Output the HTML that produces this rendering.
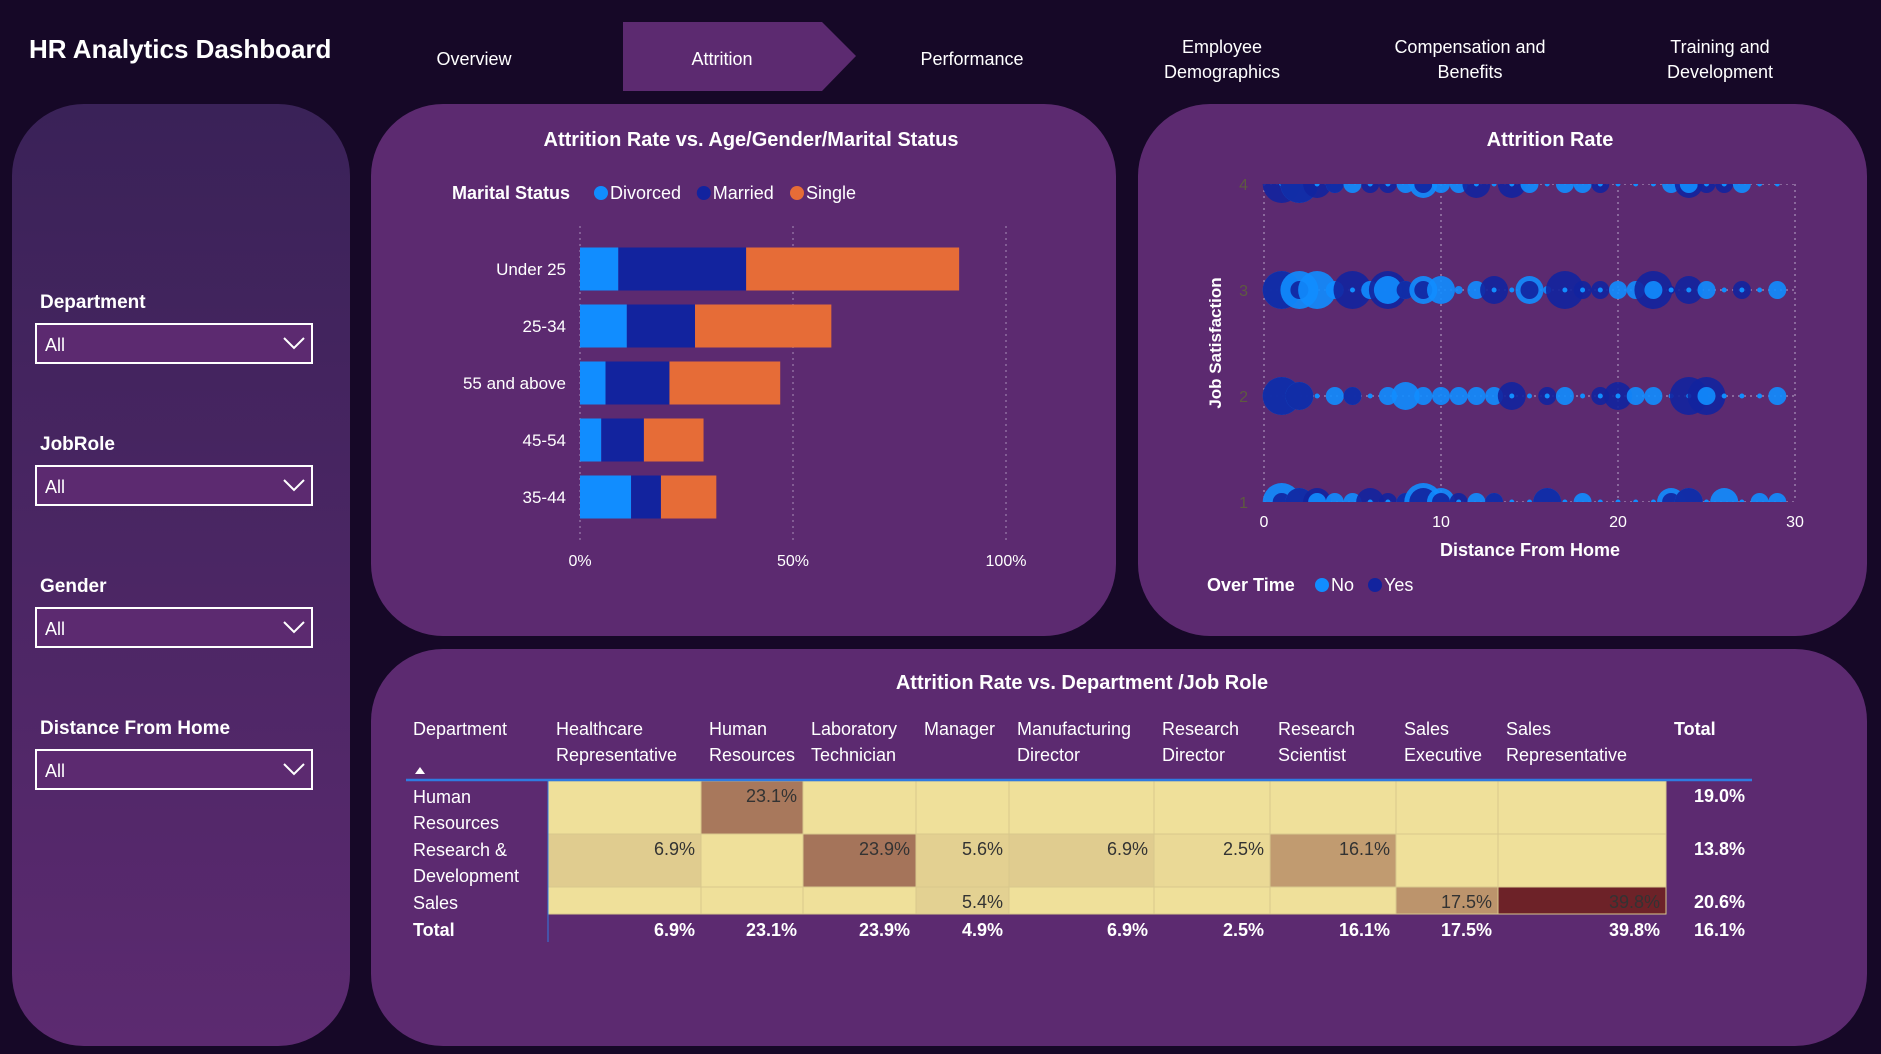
<!DOCTYPE html>
<html><head><meta charset="utf-8"><style>
html,body{margin:0;padding:0;background:#160827;width:1881px;height:1054px;overflow:hidden}
svg{display:block;font-family:"Liberation Sans",sans-serif}
</style></head><body>
<svg id="root" width="1881" height="1054" viewBox="0 0 1881 1054" xmlns="http://www.w3.org/2000/svg">
<defs>
<linearGradient id="sg" x1="0" y1="0" x2="0" y2="1"><stop offset="0" stop-color="#3a2258"/><stop offset="1" stop-color="#5c2a70"/></linearGradient>
<clipPath id="plotclip"><rect x="1262" y="184" width="535" height="318"/></clipPath>
</defs>
<rect width="1881" height="1054" fill="#160827"/>
<text x="29" y="58" fill="#fff" font-size="26" font-weight="bold">HR Analytics Dashboard</text>
<g>
<polygon points="623,22 822,22 856,56 822,91 623,91" fill="#5c2a70"/>
<g fill="#fff" font-size="18" text-anchor="middle">
<text x="474" y="65">Overview</text>
<text x="722" y="65">Attrition</text>
<text x="972" y="65">Performance</text>
<text x="1222" y="53"><tspan x="1222">Employee</tspan><tspan x="1222" dy="25">Demographics</tspan></text>
<text x="1470" y="53"><tspan x="1470">Compensation and</tspan><tspan x="1470" dy="25">Benefits</tspan></text>
<text x="1720" y="53"><tspan x="1720">Training and</tspan><tspan x="1720" dy="25">Development</tspan></text>
</g></g>
<rect x="12" y="104" width="338" height="942" rx="72" fill="url(#sg)"/>
<g id="filters"></g>
<rect x="371" y="104" width="745" height="532" rx="72" fill="#5c2a70"/>
<rect x="1138" y="104" width="729" height="532" rx="72" fill="#5c2a70"/>
<rect x="371" y="649" width="1496" height="397" rx="72" fill="#5c2a70"/>
<text x="751" y="146" fill="#fff" font-size="20" font-weight="bold" text-anchor="middle">Attrition Rate vs. Age/Gender/Marital Status</text>
<text x="1550" y="146" fill="#fff" font-size="20" font-weight="bold" text-anchor="middle">Attrition Rate</text>
<text x="1082" y="689" fill="#fff" font-size="20" font-weight="bold" text-anchor="middle">Attrition Rate vs. Department /Job Role</text>
<g id="bar"></g><g id="scatter"></g><g id="table"></g>
</svg>
<script>
const NS="http://www.w3.org/2000/svg";
function mk(p,t,a,txt){const e=document.createElementNS(NS,t);for(const k in a)e.setAttribute(k,a[k]);if(txt!==undefined)e.textContent=txt;p.appendChild(e);return e;}
/* filters */
const filterLabels=["Department","JobRole","Gender","Distance From Home"];
const filterY=[308,450,592,734];
const fg=document.getElementById('filters');
filterLabels.forEach((l,i)=>{
 const t=mk(fg,'text',{x:40,y:filterY[i],fill:'#fff','font-size':19,'font-weight':'bold'},l);
 
 
 const g=mk(fg,'g',{});
 
 
 const y=filterY[i]+16;
 mk(g,'rect',{x:36,y:y,width:276,height:39,fill:'#5c2a70',stroke:'#fff','stroke-width':2});
 mk(g,'text',{x:45,y:y+27,fill:'#fff','font-size':18},'All');
 mk(g,'polyline',{points:`${284},${y+14} ${294},${y+24} ${304},${y+14}`,fill:'none',stroke:'#fff','stroke-width':2});
});
/* bar chart */
const ageGroups=["Under 25","25-34","55 and above","45-54","35-44"];
const divorced=[9,11,6,5,12];
const married=[30,16,15,10,7];
const single=[50,32,26,14,13];
const ticks=[0,50,100];
const bg=document.getElementById('bar');
const bx=v=>580+v*4.26, by=i=>269+i*57;
ticks.forEach(t=>{mk(bg,'line',{x1:bx(t),x2:bx(t),y1:226,y2:540,stroke:'#a98fb8','stroke-dasharray':'2,4','stroke-width':1});
 const l=mk(bg,'text',{x:bx(t),y:566,fill:'#fff','font-size':16,'text-anchor':'middle'},t+'%');
 
 });
[['Divorced','#118dff'],['Married','#12239e'],['Single','#e66c37']].reduce((x,[n,c])=>{
 mk(bg,'circle',{cx:x+7,cy:193,r:7,fill:c});
 const t=mk(bg,'text',{x:x+16,y:199,fill:'#fff','font-size':18},n);
 
 
 return x+16+n.length*9.6+10;},594);
const lt=mk(bg,'text',{x:452,y:199,fill:'#fff','font-size':18,'font-weight':'bold'},'Marital Status');


ageGroups.forEach((a,i)=>{
 const l=mk(bg,'text',{x:566,y:by(i)+6,fill:'#fff','font-size':17,'text-anchor':'end'},a);
 
 
 let x0=0;
 [[divorced,'#118dff'],[married,'#12239e'],[single,'#e66c37']].forEach(([arr,c])=>{
  const r=mk(bg,'rect',{x:bx(x0),y:by(i)-21.5,width:arr[i]*4.26,height:43,fill:c});
  
  
  x0+=arr[i];});
});
/* scatter */
const satLevels=[1,2,3,4];
const noSize={1:[5,4,3,3,3,0,0,3,5,4,0,3,3,0,0,4,0,3,0,0,0,0,4,4,0,4,0,3,3],
2:[5,4,0,3,3,0,3,4,3,3,3,3,3,0,0,0,3,0,0,0,3,3,0,0,3,0,0,0,3],
3:[5,5,5,3,0,3,4,3,4,4,2,3,0,0,4,2,0,0,0,3,3,3,0,0,3,0,0,0,3],
4:[0,5,0,3,3,0,0,3,4,3,3,0,0,0,3,0,3,3,0,0,0,0,3,3,0,0,3,0,0]};
const yesSize={1:[3,4,4,0,0,4,3,3,4,3,3,0,3,0,0,4,0,0,0,0,0,0,3,4,0,0,0,0,0],
2:[5,4,0,0,3,0,0,0,0,0,0,0,0,4,0,3,0,0,3,4,0,0,0,5,5,0,0,0,0],
3:[5,3,0,0,5,0,5,3,3,0,0,0,4,0,3,0,5,3,3,0,0,5,2,4,0,0,3,0,0],
4:[5,5,4,3,0,3,3,0,3,0,0,4,0,4,0,0,0,0,3,0,0,0,0,4,3,3,0,0,0]};
const xTicks=[0,10,20,30];
const sg=document.getElementById('scatter');
const sx=v=>1264+v*(531/30), sy=v=>502-(v-1)*106;
const rad=v=>v<=0?2.5:Math.max(4,5*v-6);
xTicks.forEach(t=>{mk(sg,'line',{x1:sx(t),x2:sx(t),y1:184,y2:502,stroke:'#b9a5c7','stroke-dasharray':'2,4'});
 const l=mk(sg,'text',{x:sx(t),y:527,fill:'#fff','font-size':16,'text-anchor':'middle'},t);
 
 });
const pg=mk(sg,'g',{'clip-path':'url(#plotclip)'});
satLevels.forEach(s=>{
 const l=mk(sg,'text',{x:1248,y:sy(s)+6,fill:'#5e5a40','font-size':16,'text-anchor':'end'},s);
 
 
 mk(pg,'line',{x1:1264,x2:1797,y1:sy(s),y2:sy(s),stroke:'#b9a5c7','stroke-dasharray':'2,4'});
 for(let d=1;d<=29;d++){
  const items=[[noSize[s][d-1],'#118dff'],[yesSize[s][d-1],'#12239e']].sort((a,b)=>b[0]-a[0]);
  items.forEach(([v,c])=>{ if(v===0&&c==='#12239e')return;
   const ci=mk(pg,'circle',{cx:sx(d),cy:sy(s),r:rad(v),fill:c,'fill-opacity':v>0?0.9:1});
   
   });
 }
});
const yt=mk(sg,'text',{x:1221,y:343,fill:'#fff','font-size':17,'font-weight':'bold','text-anchor':'middle',transform:'rotate(-90 1221 343)'},'Job Satisfaction');


const xt=mk(sg,'text',{x:1530,y:556,fill:'#fff','font-size':18,'font-weight':'bold','text-anchor':'middle'},'Distance From Home');


const ot=mk(sg,'text',{x:1207,y:591,fill:'#fff','font-size':18,'font-weight':'bold'},'Over Time');


[['No','#118dff',1322],['Yes','#12239e',1375]].forEach(([n,c,x])=>{
 mk(sg,'circle',{cx:x,cy:585,r:7,fill:c});
 const t=mk(sg,'text',{x:x+9,y:591,fill:'#fff','font-size':18},n);
 
 });
/* table */
const jobRoles=[["Healthcare","Representative"],["Human","Resources"],["Laboratory","Technician"],["Manager",""],["Manufacturing","Director"],["Research","Director"],["Research","Scientist"],["Sales","Executive"],["Sales","Representative"]];
const depts=[["Human","Resources"],["Research &","Development"],["Sales",""]];
const cellVals=[[null,23.1,null,null,null,null,null,null,null],[6.9,null,23.9,5.6,6.9,2.5,16.1,null,null],[null,null,null,5.4,null,null,null,17.5,39.8]];
const rowTotals=[19.0,13.8,20.6];
const colTotals=[6.9,23.1,23.9,4.9,6.9,2.5,16.1,17.5,39.8];
const grandTotal=16.1;
const tg=document.getElementById('table');
const colEdges=[548,701,803,916,1009,1154,1270,1396,1498,1666];
const rowEdges=[781,834,887,914];
function heat(v){ if(v===null)return '#efe09a';
 const stops=[[0,[239,224,154]],[7,[224,204,143]],[16,[193,155,112]],[24,[165,115,90]],[40,[108,33,39]]];
 for(let i=1;i<stops.length;i++){if(v<=stops[i][0]){const [a,ca]=stops[i-1],[b,cb]=stops[i];const t=(v-a)/(b-a);return 'rgb('+ca.map((c,k)=>Math.round(c+(cb[k]-c)*t)).join(',')+')';}}
 return 'rgb(108,33,39)';}
const dh=mk(tg,'text',{x:413,y:735,fill:'#fff','font-size':18},'Department');


mk(tg,'polygon',{points:'415,774 420,767 425,774',fill:'#fff'});
jobRoles.forEach((r,j)=>{
 const t=mk(tg,'text',{x:colEdges[j]+8,y:735,fill:'#fff','font-size':18},'');
 
 
 mk(t,'tspan',{x:colEdges[j]+8},r[0]);mk(t,'tspan',{x:colEdges[j]+8,dy:26},r[1]);
});
const th=mk(tg,'text',{x:1674,y:735,fill:'#fff','font-size':18,'font-weight':'bold'},'Total');


depts.forEach((d,i)=>{
 const y0=rowEdges[i],y1=rowEdges[i+1];
 const t=mk(tg,'text',{x:413,y:y0+22,fill:'#fff','font-size':18},'');
 
 
 mk(t,'tspan',{x:413},d[0]);mk(t,'tspan',{x:413,dy:26},d[1]);
 cellVals[i].forEach((v,j)=>{
  const r=mk(tg,'rect',{x:colEdges[j],y:y0,width:colEdges[j+1]-colEdges[j],height:y1-y0,fill:heat(v),stroke:'#d8c88c','stroke-width':1});
  
  
  if(v!==null){const c=mk(tg,'text',{x:colEdges[j+1]-6,y:y0+21,fill:'#333','font-size':18,'text-anchor':'end'},v.toFixed(1)+'%');
   
   }
 });
 const rt=mk(tg,'text',{x:1745,y:y0+21,fill:'#fff','font-size':18,'font-weight':'bold','text-anchor':'end'},rowTotals[i].toFixed(1)+'%');
 
 
});
mk(tg,'line',{x1:406,x2:1752,y1:780,y2:780,stroke:'#2f7be0','stroke-width':2.5});
mk(tg,'line',{x1:548,x2:548,y1:781,y2:942,stroke:'#2f7be0','stroke-width':1});
const tt=mk(tg,'text',{x:413,y:936,fill:'#fff','font-size':18,'font-weight':'bold'},'Total');


colTotals.forEach((v,j)=>{const c=mk(tg,'text',{x:colEdges[j+1]-6,y:936,fill:'#fff','font-size':18,'font-weight':'bold','text-anchor':'end'},v.toFixed(1)+'%');
 
 });
const gt=mk(tg,'text',{x:1745,y:936,fill:'#fff','font-size':18,'font-weight':'bold','text-anchor':'end'},grandTotal.toFixed(1)+'%');


</script>
</body></html>
